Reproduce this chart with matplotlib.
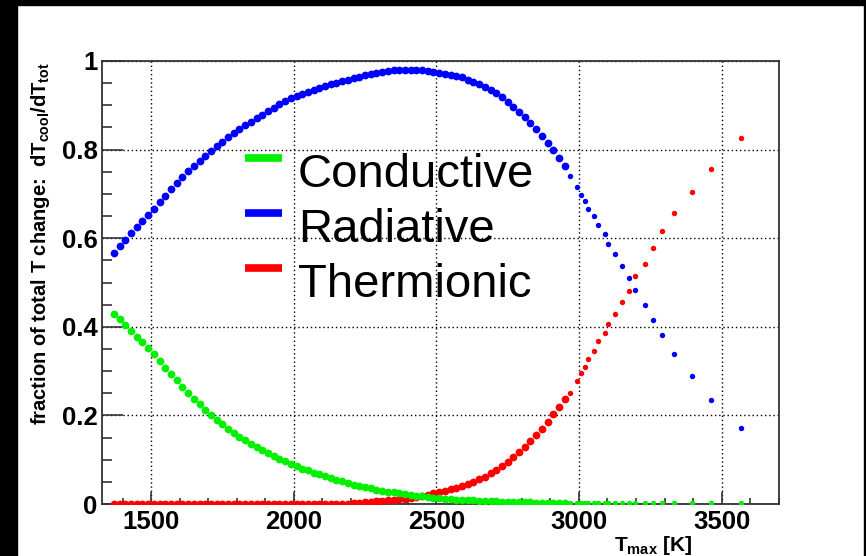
import numpy as np
import matplotlib
matplotlib.use("Agg")
import matplotlib.pyplot as plt
from matplotlib.patches import Rectangle
from matplotlib.lines import Line2D
from matplotlib.ticker import MultipleLocator

plt.rcParams['font.family'] = ['Liberation Sans', 'DejaVu Sans']
plt.rcParams['mathtext.fontset'] = 'custom'
plt.rcParams['mathtext.rm'] = 'Liberation Sans:bold'
plt.rcParams['mathtext.it'] = 'Liberation Sans:bold'
plt.rcParams['mathtext.bf'] = 'Liberation Sans:bold'

# T_max values [K] of the runs (shared by all three series)
t_max = [1370, 1390, 1410, 1430, 1450, 1470, 1490, 1510, 1530, 1550,
         1570, 1590, 1610, 1630, 1650, 1670, 1690, 1710, 1730, 1750,
         1770, 1790, 1810, 1830, 1850, 1870, 1890, 1910, 1930, 1950,
         1970, 1990, 2010, 2030, 2050, 2070, 2090, 2110, 2130, 2150,
         2170, 2190, 2210, 2230, 2250, 2270, 2290, 2310, 2330, 2350,
         2370, 2390, 2410, 2430, 2450, 2470, 2490, 2510, 2530, 2550,
         2570, 2590, 2610, 2630, 2650, 2670, 2690, 2710, 2730, 2750,
         2770, 2790, 2810, 2830, 2850, 2870, 2890, 2910, 2930, 2950,
         2968, 2994, 3008, 3022, 3030, 3054, 3068, 3091, 3102, 3125,
         3151, 3176, 3196, 3232, 3258, 3290, 3333, 3396, 3462, 3567]
n_dense = 80  # runs below ~2950 K lie so close they form a band

conductive = [.430, .417, .404, .391, .378, .365, .352, .338, .323, .308,
              .294, .279, .265, .251, .238, .225, .213, .201, .190, .180,
              .170, .161, .152, .144, .136, .129, .122, .115, .108, .102,
              .096, .091, .085, .080, .076, .071, .067, .063, .059, .055,
              .051, .048, .044, .041, .038, .035, .032, .030, .028, .026,
              .024, .022, .020, .018, .017, .016, .014, .013, .012, .011,
              .010, .009, .009, .008, .007, .007, .006, .006, .005, .005,
              .005, .004, .004, .004, .003, .003, .003, .003, .002, .002,
              .002, .002, .002, .002, .002, .002, .002, .002, .002, .002,
              .002, .002, .002, .002, .002, .002, .002, .002, .002, .002]

radiative = [.567, .582, .597, .612, .626, .639, .652, .666, .681, .696,
             .711, .725, .739, .751, .763, .774, .785, .796, .807, .818,
             .828, .837, .846, .855, .863, .871, .879, .887, .894, .902,
             .909, .916, .921, .926, .931, .935, .939, .944, .948, .951,
             .955, .958, .961, .964, .968, .971, .973, .975, .977, .979,
             .980, .980, .980, .980, .979, .978, .976, .974, .971, .969,
             .966, .963, .958, .953, .947, .941, .935, .927, .918, .908,
             .897, .886, .873, .860, .846, .831, .816, .799, .781, .762,
             .741, .716, .697, .683, .667, .649, .630, .609, .588, .564,
             .537, .511, .484, .450, .415, .381, .339, .288, .235, .172]

thermionic = [.001, .001, .001, .001, .001, .001, .001, .001, .001, .001,
              .001, .001, .001, .001, .001, .001, .001, .001, .001, .001,
              .001, .001, .001, .001, .001, .001, .001, .001, .001, .001,
              .001, .001, .001, .001, .001, .001, .001, .001, .001, .001,
              .001, .001, .002, .003, .004, .005, .006, .007, .008, .009,
              .011, .012, .014, .016, .018, .021, .024, .027, .030, .033,
              .037, .041, .045, .050, .056, .062, .069, .077, .086, .095,
              .106, .117, .129, .142, .155, .170, .186, .203, .220, .238,
              .250, .278, .296, .309, .327, .346, .367, .386, .407, .429,
              .455, .481, .514, .542, .578, .617, .657, .705, .756, .827]

W, H = 866, 556
fig = plt.figure(figsize=(W / 100, H / 100), dpi=100)
fig.patch.set_facecolor('white')
# black border of the screenshot
fig.add_artist(Rectangle((0, 1 - 5 / H), 1, 5 / H, transform=fig.transFigure,
                         color='black', zorder=0))
fig.add_artist(Rectangle((0, 0), 17 / W, 1, transform=fig.transFigure,
                         color='black', zorder=0))
fig.add_artist(Rectangle((1 - 2 / W, 0), 2 / W, 1, transform=fig.transFigure,
                         color='black', zorder=0))

ax = fig.add_axes([101.7 / W, (H - 504) / H, (779.5 - 101.7) / W, (504 - 61) / H])

series = [(thermionic, '#ff0000', 3), (radiative, '#0000ff', 3), (conductive, '#00f000', 4)]
for vals, col, z in series:
    ax.plot(t_max[:n_dense], vals[:n_dense], 'o', color=col, ms=5.6, mew=0, zorder=z)
    ax.plot(t_max[n_dense:], vals[n_dense:], 'o', color=col, ms=3.9, mew=0, zorder=z)

ax.set_xlim(1327, 3703)
ax.set_ylim(0, 1)
ax.xaxis.set_major_locator(MultipleLocator(500))
ax.xaxis.set_minor_locator(MultipleLocator(100))
ax.yaxis.set_minor_locator(MultipleLocator(0.05))
ax.set_yticks([0, 0.2, 0.4, 0.6, 0.8, 1.0])
ax.set_yticklabels(['0', '0.2', '0.4', '0.6', '0.8', '1'])

ax.tick_params(axis='both', which='both', direction='in', top=False, right=False,
               labelsize=18.5, width=1.2, color='#333333')
ax.tick_params(axis='x', which='major', length=9, pad=4)
ax.tick_params(axis='x', which='minor', length=4.5)
ax.tick_params(axis='y', which='major', length=15, pad=3)
ax.tick_params(axis='y', which='minor', length=7.5)
for lab in ax.get_xticklabels() + ax.get_yticklabels():
    lab.set_fontweight('bold')
for sp in ax.spines.values():
    sp.set_linewidth(1.3)
    sp.set_color('#333333')

ax.grid(True, which='major', color='black', linestyle=(0, (1, 2)), linewidth=1)

# axis titles (ROOT style, pushed to the axis ends)
fig.text(41 / W, 1 - 62 / H, 'fraction of total T change:  dT$_{\\rm cool}$/dT$_{\\rm tot}$',
         rotation=90, ha='center', va='top', fontsize=14.5, fontweight='bold')
fig.text(692 / W, 1 - 551 / H, 'T$_{\\rm max}$ [K]', ha='right', va='baseline',
         fontsize=15, fontweight='bold')

# legend
labels = ['Conductive', 'Radiative', 'Thermionic']
colors = ['#00f000', '#0000ff', '#ff0000']
for i, (lab, col) in enumerate(zip(labels, colors)):
    ly = 158 + i * 55
    fig.add_artist(Line2D([245 / W, 282 / W], [1 - ly / H, 1 - ly / H],
                          transform=fig.transFigure, color=col, linewidth=5.5,
                          solid_capstyle='butt'))
    fig.text(298 / W, 1 - (ly + 29) / H, lab, ha='left', va='baseline',
             fontsize=34)

fig.savefig('out.png', dpi=100)
